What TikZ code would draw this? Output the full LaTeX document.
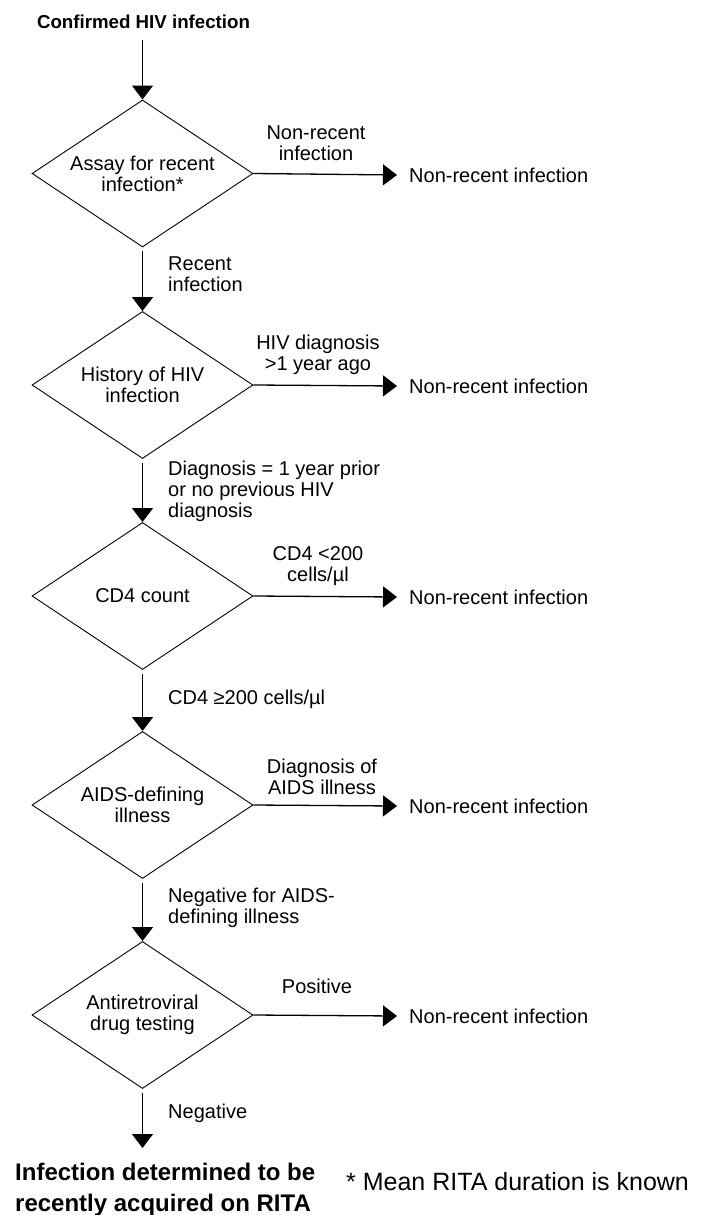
\documentclass[tikz,border=0pt]{standalone}
\usepackage{fontspec}
\setmainfont{Liberation Sans}
\usetikzlibrary{shapes.geometric,arrows.meta}
\tikzset{
  txt/.style={font=\fontsize{20}{21}\selectfont, inner sep=0pt},
  dec/.style={draw, diamond, minimum width=221pt, minimum height=147pt, inner sep=0pt, line width=0.9pt},
  dtxt/.style={txt, align=center},
  arr/.style={line width=1.3pt, -{Triangle[width=21pt,length=14pt]}},
  lab/.style={txt, align=left, anchor=west},
  clab/.style={txt, align=center},
  outt/.style={txt, anchor=west},
}
\begin{document}
\begin{tikzpicture}[x=1pt,y=-1pt]
\useasboundingbox (0,0) rectangle (701,1215);
\node[font=\bfseries\fontsize{18.7}{21}\selectfont, inner sep=0pt] (start) at (143.5,22) {Confirmed HIV infection};
\node[dec] (d1) at (142.5,173.5) {};
\node[dec] (d2) at (142.5,385) {};
\node[dec] (d3) at (142.5,596) {};
\node[dec] (d4) at (142.5,805) {};
\node[dec] (d5) at (142.5,1015) {};
\node[dtxt] (t1) at (d1) {Assay for recent\\infection*};
\node[dtxt] (t2) at (d2) {History of HIV\\infection};
\node[dtxt] (t3) at (d3) {CD4 count};
\node[dtxt] (t4) at (d4) {AIDS-defining\\illness};
\node[dtxt] (t5) at (d5) {Antiretroviral\\drug testing};
\node[font=\bfseries\fontsize{24}{31}\selectfont, align=left, anchor=north west, inner sep=0pt] (final) at (15,1163) {Infection determined to be\\recently acquired on RITA};
\node[font=\fontsize{25}{26}\selectfont, anchor=base west, inner sep=0pt] (foot) at (346,1190) {* Mean RITA duration is known};
% outputs
\node[outt] (o1) at (409,175) {Non-recent infection};
\node[outt] (o2) at (409,386) {Non-recent infection};
\node[outt] (o3) at (409,597) {Non-recent infection};
\node[outt] (o4) at (409,806) {Non-recent infection};
\node[outt] (o5) at (409,1016) {Non-recent infection};
% vertical connectors
\coordinate (s0) at (142.5,40);
\coordinate (s6) at (142.5,1148);
\draw[arr] (s0) -- (d1.north);
\draw[arr] ([yshift=-4pt]d1.south) -- (d2.north);
\draw[arr] ([yshift=-4pt]d2.south) -- (d3.north);
\draw[arr] ([yshift=-4pt]d3.south) -- (d4.north);
\draw[arr] ([yshift=-4pt]d4.south) -- (d5.north);
\draw[arr] ([yshift=-4pt]d5.south) -- (s6);
% horizontal connectors
\foreach \i in {1,...,5}{\draw[arr] (d\i.east) -- ([xshift=-12pt]o\i.west);}
% labels on vertical connectors
\node[lab] (l1) at (168,274.5) {Recent\\infection};
\node[lab] (l2) at (168,491) {Diagnosis = 1 year prior\\or no previous HIV\\diagnosis};
\node[lab] (l3) at (168,699) {CD4 ≥200 cells/µl};
\node[lab] (l4) at (168,908) {Negative for AIDS-\\defining illness};
\node[lab] (l5) at (168,1113) {Negative};
% labels on horizontal connectors
\node[clab] (r1) at (316,143.5) {Non-recent\\infection};
\node[clab] (r2) at (318,355) {HIV diagnosis\\>1 year ago};
\node[clab] (r3) at (318,566.5) {CD4 <200\\cells/µl};
\node[clab] (r4) at (322,777) {Diagnosis of\\AIDS illness};
\node[clab] (r5) at (317,986) {Positive};
\end{tikzpicture}
\end{document}
